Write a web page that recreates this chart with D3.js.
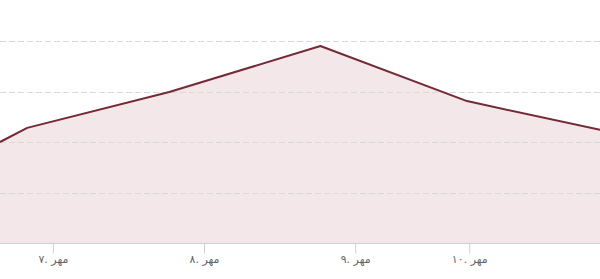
<!DOCTYPE html>
<html>
<head>
<meta charset="utf-8">
<script src="https://cdn.jsdelivr.net/npm/d3@7"></script>
<style>
  html, body { margin: 0; padding: 0; background: #fff; }
  svg { display: block; }
</style>
</head>
<body>
<div id="chart"></div>
<script>
// x values are in days (day of month Mehr), y values in chart units
const pointDays = [6.65, 6.83, 7.77, 8.77, 9.74, 10.62];
const pointValues = [2.0, 2.28, 2.99, 3.90, 2.81, 2.24];
const tickDays = [7, 8, 9, 9.755];
const tickLabels = ["۷. مهر", "۸. مهر", "۹. مهر", "۱۰. مهر"];
const gridValues = [1, 2, 3, 4];

const W = 600, H = 279;
const baseY = 243, topY = 41;

const svg = d3.select("#chart").append("svg")
    .attr("width", W)
    .attr("height", H);

const x = d3.scaleLinear()
    .domain([6.65, 10.62])
    .range([0, 600]);

const y = d3.scaleLinear()
    .domain([0, 4])
    .range([baseY, topY]);

const data = pointDays.map((d, i) => ({ day: d, value: pointValues[i] }));

// area fill
const area = d3.area()
    .x(d => x(d.day))
    .y0(y(0))
    .y1(d => y(d.value));

svg.append("path")
    .datum(data)
    .attr("d", area)
    .attr("fill", "#f4e7e9");

// dashed gridlines (visible through the area)
svg.append("g")
    .selectAll("line")
    .data(gridValues)
    .join("line")
    .attr("x1", 0)
    .attr("x2", W)
    .attr("y1", d => Math.round(y(d)) + 0.5)
    .attr("y2", d => Math.round(y(d)) + 0.5)
    .attr("stroke", "#d9d9d9")
    .attr("stroke-width", 1)
    .attr("stroke-dasharray", "6,3");

// line
const line = d3.line()
    .x(d => x(d.day))
    .y(d => y(d.value));

svg.append("path")
    .datum(data)
    .attr("d", line)
    .attr("fill", "none")
    .attr("stroke", "#742a36")
    .attr("stroke-width", 2)
    .attr("stroke-linejoin", "round");

// x axis
const axis = d3.axisBottom(x)
    .tickValues(tickDays)
    .tickFormat((d, i) => tickLabels[i])
    .tickSize(10)
    .tickSizeOuter(0);

const ax = svg.append("g")
    .attr("transform", `translate(0,${Math.round(baseY) + 0.5})`)
    .call(axis);

ax.select(".domain")
    .attr("d", `M0,0H${W}`)
    .attr("stroke", "#d0d0d0");

ax.selectAll(".tick line")
    .attr("stroke", "#d0d0d0");

ax.selectAll(".tick text")
    .attr("y", 12)
    .attr("fill", "#666")
    .style("font-family", "'DejaVu Sans', sans-serif")
    .style("font-size", "11px");
</script>
</body>
</html>
